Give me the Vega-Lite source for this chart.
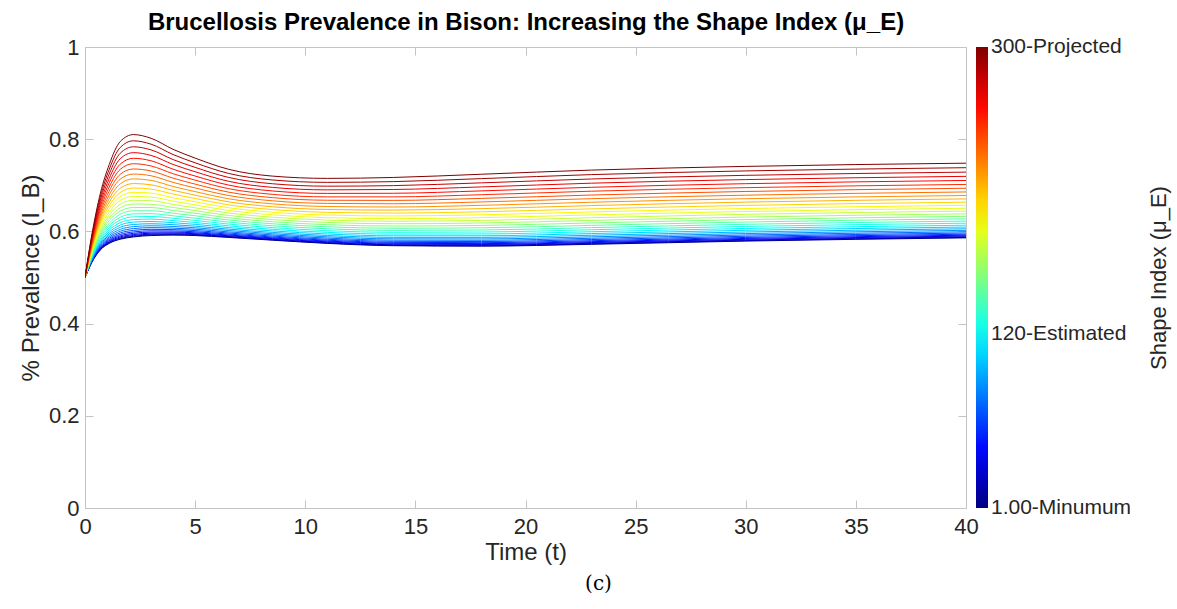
{
"$schema":"https://vega.github.io/schema/vega-lite/v6.json",
"width":881,"height":461,
"autosize":{"type":"none"},
"padding":{"left":85,"top":47,"right":211,"bottom":101},
"background":"white",
"config":{"font":"Liberation Sans","view":{"stroke":null}},
"title":{"text":"(c)","orient":"bottom","anchor":"middle","frame":"group","dx":73,"offset":10,"font":"DejaVu Serif","fontSize":20,"fontWeight":"normal","color":"#000000"},
"data":{"values":[
{"c":0,"t":0,"y":0.5},{"c":0,"t":0.3,"y":0.532},{"c":0,"t":0.7,"y":0.56},{"c":0,"t":1.1,"y":0.574},{"c":0,"t":1.6,"y":0.583},{"c":0,"t":2.2,"y":0.588},{"c":0,"t":3,"y":0.591},{"c":0,"t":4,"y":0.592},{"c":0,"t":5,"y":0.591},{"c":0,"t":6.5,"y":0.587},{"c":0,"t":8.5,"y":0.581},{"c":0,"t":11,"y":0.574},{"c":0,"t":14,"y":0.569},{"c":0,"t":18,"y":0.568},{"c":0,"t":23,"y":0.572},{"c":0,"t":30,"y":0.579},{"c":0,"t":40,"y":0.586},
{"c":1,"t":0,"y":0.5},{"c":1,"t":0.3,"y":0.5323},{"c":1,"t":0.7,"y":0.5607},{"c":1,"t":1.1,"y":0.575},{"c":1,"t":1.6,"y":0.5843},{"c":1,"t":2.2,"y":0.5893},{"c":1,"t":3,"y":0.5923},{"c":1,"t":4,"y":0.5931},{"c":1,"t":5,"y":0.592},{"c":1,"t":6.5,"y":0.5879},{"c":1,"t":8.5,"y":0.5818},{"c":1,"t":11,"y":0.5748},{"c":1,"t":14,"y":0.5699},{"c":1,"t":18,"y":0.5689},{"c":1,"t":23,"y":0.573},{"c":1,"t":30,"y":0.58},{"c":1,"t":40,"y":0.587},
{"c":2,"t":0,"y":0.5},{"c":2,"t":0.3,"y":0.5328},{"c":2,"t":0.7,"y":0.5617},{"c":2,"t":1.1,"y":0.5764},{"c":2,"t":1.6,"y":0.5859},{"c":2,"t":2.2,"y":0.5911},{"c":2,"t":3,"y":0.5939},{"c":2,"t":4,"y":0.5946},{"c":2,"t":5,"y":0.5933},{"c":2,"t":6.5,"y":0.589},{"c":2,"t":8.5,"y":0.5829},{"c":2,"t":11,"y":0.5759},{"c":2,"t":14,"y":0.571},{"c":2,"t":18,"y":0.5702},{"c":2,"t":23,"y":0.5742},{"c":2,"t":30,"y":0.5812},{"c":2,"t":40,"y":0.5882},
{"c":3,"t":0,"y":0.5},{"c":3,"t":0.3,"y":0.5334},{"c":3,"t":0.7,"y":0.5629},{"c":3,"t":1.1,"y":0.578},{"c":3,"t":1.6,"y":0.588},{"c":3,"t":2.2,"y":0.5932},{"c":3,"t":3,"y":0.596},{"c":3,"t":4,"y":0.5964},{"c":3,"t":5,"y":0.595},{"c":3,"t":6.5,"y":0.5905},{"c":3,"t":8.5,"y":0.5843},{"c":3,"t":11,"y":0.5773},{"c":3,"t":14,"y":0.5725},{"c":3,"t":18,"y":0.5717},{"c":3,"t":23,"y":0.5758},{"c":3,"t":30,"y":0.5828},{"c":3,"t":40,"y":0.5898},
{"c":4,"t":0,"y":0.5},{"c":4,"t":0.3,"y":0.534},{"c":4,"t":0.7,"y":0.5643},{"c":4,"t":1.1,"y":0.58},{"c":4,"t":1.6,"y":0.5904},{"c":4,"t":2.2,"y":0.5958},{"c":4,"t":3,"y":0.5984},{"c":4,"t":4,"y":0.5985},{"c":4,"t":5,"y":0.5969},{"c":4,"t":6.5,"y":0.5922},{"c":4,"t":8.5,"y":0.5859},{"c":4,"t":11,"y":0.579},{"c":4,"t":14,"y":0.5742},{"c":4,"t":18,"y":0.5735},{"c":4,"t":23,"y":0.5777},{"c":4,"t":30,"y":0.5847},{"c":4,"t":40,"y":0.5917},
{"c":5,"t":0,"y":0.5},{"c":5,"t":0.3,"y":0.5348},{"c":5,"t":0.7,"y":0.566},{"c":5,"t":1.1,"y":0.5823},{"c":5,"t":1.6,"y":0.5933},{"c":5,"t":2.2,"y":0.5988},{"c":5,"t":3,"y":0.6013},{"c":5,"t":4,"y":0.601},{"c":5,"t":5,"y":0.5992},{"c":5,"t":6.5,"y":0.5942},{"c":5,"t":8.5,"y":0.5878},{"c":5,"t":11,"y":0.5809},{"c":5,"t":14,"y":0.5762},{"c":5,"t":18,"y":0.5756},{"c":5,"t":23,"y":0.5798},{"c":5,"t":30,"y":0.5869},{"c":5,"t":40,"y":0.5939},
{"c":6,"t":0,"y":0.5},{"c":6,"t":0.3,"y":0.5357},{"c":6,"t":0.7,"y":0.5679},{"c":6,"t":1.1,"y":0.5849},{"c":6,"t":1.6,"y":0.5966},{"c":6,"t":2.2,"y":0.6022},{"c":6,"t":3,"y":0.6045},{"c":6,"t":4,"y":0.6039},{"c":6,"t":5,"y":0.6018},{"c":6,"t":6.5,"y":0.5965},{"c":6,"t":8.5,"y":0.5899},{"c":6,"t":11,"y":0.583},{"c":6,"t":14,"y":0.5785},{"c":6,"t":18,"y":0.578},{"c":6,"t":23,"y":0.5823},{"c":6,"t":30,"y":0.5894},{"c":6,"t":40,"y":0.5964},
{"c":7,"t":0,"y":0.5},{"c":7,"t":0.3,"y":0.5367},{"c":7,"t":0.7,"y":0.57},{"c":7,"t":1.1,"y":0.5879},{"c":7,"t":1.6,"y":0.6002},{"c":7,"t":2.2,"y":0.6061},{"c":7,"t":3,"y":0.6082},{"c":7,"t":4,"y":0.6071},{"c":7,"t":5,"y":0.6047},{"c":7,"t":6.5,"y":0.599},{"c":7,"t":8.5,"y":0.5923},{"c":7,"t":11,"y":0.5855},{"c":7,"t":14,"y":0.581},{"c":7,"t":18,"y":0.5807},{"c":7,"t":23,"y":0.5851},{"c":7,"t":30,"y":0.5922},{"c":7,"t":40,"y":0.5992},
{"c":8,"t":0,"y":0.5},{"c":8,"t":0.3,"y":0.5378},{"c":8,"t":0.7,"y":0.5724},{"c":8,"t":1.1,"y":0.5912},{"c":8,"t":1.6,"y":0.6043},{"c":8,"t":2.2,"y":0.6103},{"c":8,"t":3,"y":0.6122},{"c":8,"t":4,"y":0.6107},{"c":8,"t":5,"y":0.6079},{"c":8,"t":6.5,"y":0.6019},{"c":8,"t":8.5,"y":0.595},{"c":8,"t":11,"y":0.5882},{"c":8,"t":14,"y":0.5839},{"c":8,"t":18,"y":0.5837},{"c":8,"t":23,"y":0.5882},{"c":8,"t":30,"y":0.5953},{"c":8,"t":40,"y":0.6023},
{"c":9,"t":0,"y":0.5},{"c":9,"t":0.3,"y":0.5391},{"c":9,"t":0.7,"y":0.5749},{"c":9,"t":1.1,"y":0.5948},{"c":9,"t":1.6,"y":0.6088},{"c":9,"t":2.2,"y":0.615},{"c":9,"t":3,"y":0.6166},{"c":9,"t":4,"y":0.6146},{"c":9,"t":5,"y":0.6114},{"c":9,"t":6.5,"y":0.605},{"c":9,"t":8.5,"y":0.5979},{"c":9,"t":11,"y":0.5911},{"c":9,"t":14,"y":0.587},{"c":9,"t":18,"y":0.587},{"c":9,"t":23,"y":0.5916},{"c":9,"t":30,"y":0.5987},{"c":9,"t":40,"y":0.6057},
{"c":10,"t":0,"y":0.5},{"c":10,"t":0.3,"y":0.5404},{"c":10,"t":0.7,"y":0.5778},{"c":10,"t":1.1,"y":0.5987},{"c":10,"t":1.6,"y":0.6136},{"c":10,"t":2.2,"y":0.6201},{"c":10,"t":3,"y":0.6215},{"c":10,"t":4,"y":0.6189},{"c":10,"t":5,"y":0.6153},{"c":10,"t":6.5,"y":0.6084},{"c":10,"t":8.5,"y":0.6011},{"c":10,"t":11,"y":0.5944},{"c":10,"t":14,"y":0.5904},{"c":10,"t":18,"y":0.5905},{"c":10,"t":23,"y":0.5953},{"c":10,"t":30,"y":0.6024},{"c":10,"t":40,"y":0.6094},
{"c":11,"t":0,"y":0.5},{"c":11,"t":0.3,"y":0.5418},{"c":11,"t":0.7,"y":0.5808},{"c":11,"t":1.1,"y":0.603},{"c":11,"t":1.6,"y":0.6189},{"c":11,"t":2.2,"y":0.6256},{"c":11,"t":3,"y":0.6267},{"c":11,"t":4,"y":0.6235},{"c":11,"t":5,"y":0.6194},{"c":11,"t":6.5,"y":0.6121},{"c":11,"t":8.5,"y":0.6045},{"c":11,"t":11,"y":0.5979},{"c":11,"t":14,"y":0.5941},{"c":11,"t":18,"y":0.5944},{"c":11,"t":23,"y":0.5993},{"c":11,"t":30,"y":0.6064},{"c":11,"t":40,"y":0.6134},
{"c":12,"t":0,"y":0.5},{"c":12,"t":0.3,"y":0.5434},{"c":12,"t":0.7,"y":0.5841},{"c":12,"t":1.1,"y":0.6075},{"c":12,"t":1.6,"y":0.6246},{"c":12,"t":2.2,"y":0.6315},{"c":12,"t":3,"y":0.6324},{"c":12,"t":4,"y":0.6285},{"c":12,"t":5,"y":0.6239},{"c":12,"t":6.5,"y":0.616},{"c":12,"t":8.5,"y":0.6082},{"c":12,"t":11,"y":0.6016},{"c":12,"t":14,"y":0.598},{"c":12,"t":18,"y":0.5986},{"c":12,"t":23,"y":0.6036},{"c":12,"t":30,"y":0.6108},{"c":12,"t":40,"y":0.6178},
{"c":13,"t":0,"y":0.5},{"c":13,"t":0.3,"y":0.545},{"c":13,"t":0.7,"y":0.5876},{"c":13,"t":1.1,"y":0.6124},{"c":13,"t":1.6,"y":0.6306},{"c":13,"t":2.2,"y":0.6379},{"c":13,"t":3,"y":0.6384},{"c":13,"t":4,"y":0.6338},{"c":13,"t":5,"y":0.6287},{"c":13,"t":6.5,"y":0.6202},{"c":13,"t":8.5,"y":0.6122},{"c":13,"t":11,"y":0.6057},{"c":13,"t":14,"y":0.6022},{"c":13,"t":18,"y":0.603},{"c":13,"t":23,"y":0.6082},{"c":13,"t":30,"y":0.6154},{"c":13,"t":40,"y":0.6224},
{"c":14,"t":0,"y":0.5},{"c":14,"t":0.3,"y":0.5468},{"c":14,"t":0.7,"y":0.5914},{"c":14,"t":1.1,"y":0.6176},{"c":14,"t":1.6,"y":0.6371},{"c":14,"t":2.2,"y":0.6446},{"c":14,"t":3,"y":0.6448},{"c":14,"t":4,"y":0.6395},{"c":14,"t":5,"y":0.6339},{"c":14,"t":6.5,"y":0.6248},{"c":14,"t":8.5,"y":0.6165},{"c":14,"t":11,"y":0.61},{"c":14,"t":14,"y":0.6068},{"c":14,"t":18,"y":0.6078},{"c":14,"t":23,"y":0.6131},{"c":14,"t":30,"y":0.6203},{"c":14,"t":40,"y":0.6273},
{"c":15,"t":0,"y":0.5},{"c":15,"t":0.3,"y":0.5487},{"c":15,"t":0.7,"y":0.5954},{"c":15,"t":1.1,"y":0.6232},{"c":15,"t":1.6,"y":0.644},{"c":15,"t":2.2,"y":0.6518},{"c":15,"t":3,"y":0.6517},{"c":15,"t":4,"y":0.6455},{"c":15,"t":5,"y":0.6393},{"c":15,"t":6.5,"y":0.6296},{"c":15,"t":8.5,"y":0.621},{"c":15,"t":11,"y":0.6145},{"c":15,"t":14,"y":0.6116},{"c":15,"t":18,"y":0.6129},{"c":15,"t":23,"y":0.6183},{"c":15,"t":30,"y":0.6256},{"c":15,"t":40,"y":0.6326},
{"c":16,"t":0,"y":0.5},{"c":16,"t":0.3,"y":0.5507},{"c":16,"t":0.7,"y":0.5996},{"c":16,"t":1.1,"y":0.629},{"c":16,"t":1.6,"y":0.6512},{"c":16,"t":2.2,"y":0.6594},{"c":16,"t":3,"y":0.6589},{"c":16,"t":4,"y":0.6519},{"c":16,"t":5,"y":0.6451},{"c":16,"t":6.5,"y":0.6346},{"c":16,"t":8.5,"y":0.6257},{"c":16,"t":11,"y":0.6194},{"c":16,"t":14,"y":0.6166},{"c":16,"t":18,"y":0.6182},{"c":16,"t":23,"y":0.6238},{"c":16,"t":30,"y":0.6311},{"c":16,"t":40,"y":0.6381},
{"c":17,"t":0,"y":0.5},{"c":17,"t":0.3,"y":0.5528},{"c":17,"t":0.7,"y":0.604},{"c":17,"t":1.1,"y":0.6352},{"c":17,"t":1.6,"y":0.6589},{"c":17,"t":2.2,"y":0.6675},{"c":17,"t":3,"y":0.6665},{"c":17,"t":4,"y":0.6586},{"c":17,"t":5,"y":0.6511},{"c":17,"t":6.5,"y":0.64},{"c":17,"t":8.5,"y":0.6308},{"c":17,"t":11,"y":0.6245},{"c":17,"t":14,"y":0.622},{"c":17,"t":18,"y":0.6238},{"c":17,"t":23,"y":0.6296},{"c":17,"t":30,"y":0.637},{"c":17,"t":40,"y":0.644},
{"c":18,"t":0,"y":0.5},{"c":18,"t":0.3,"y":0.555},{"c":18,"t":0.7,"y":0.6087},{"c":18,"t":1.1,"y":0.6417},{"c":18,"t":1.6,"y":0.667},{"c":18,"t":2.2,"y":0.6759},{"c":18,"t":3,"y":0.6746},{"c":18,"t":4,"y":0.6657},{"c":18,"t":5,"y":0.6575},{"c":18,"t":6.5,"y":0.6456},{"c":18,"t":8.5,"y":0.636},{"c":18,"t":11,"y":0.6298},{"c":18,"t":14,"y":0.6276},{"c":18,"t":18,"y":0.6298},{"c":18,"t":23,"y":0.6358},{"c":18,"t":30,"y":0.6432},{"c":18,"t":40,"y":0.6502},
{"c":19,"t":0,"y":0.5},{"c":19,"t":0.3,"y":0.5573},{"c":19,"t":0.7,"y":0.6136},{"c":19,"t":1.1,"y":0.6485},{"c":19,"t":1.6,"y":0.6754},{"c":19,"t":2.2,"y":0.6848},{"c":19,"t":3,"y":0.683},{"c":19,"t":4,"y":0.6731},{"c":19,"t":5,"y":0.6642},{"c":19,"t":6.5,"y":0.6515},{"c":19,"t":8.5,"y":0.6416},{"c":19,"t":11,"y":0.6355},{"c":19,"t":14,"y":0.6335},{"c":19,"t":18,"y":0.636},{"c":19,"t":23,"y":0.6422},{"c":19,"t":30,"y":0.6496},{"c":19,"t":40,"y":0.6566},
{"c":20,"t":0,"y":0.5},{"c":20,"t":0.3,"y":0.5597},{"c":20,"t":0.7,"y":0.6188},{"c":20,"t":1.1,"y":0.6557},{"c":20,"t":1.6,"y":0.6843},{"c":20,"t":2.2,"y":0.6941},{"c":20,"t":3,"y":0.6918},{"c":20,"t":4,"y":0.6809},{"c":20,"t":5,"y":0.6713},{"c":20,"t":6.5,"y":0.6577},{"c":20,"t":8.5,"y":0.6474},{"c":20,"t":11,"y":0.6414},{"c":20,"t":14,"y":0.6397},{"c":20,"t":18,"y":0.6425},{"c":20,"t":23,"y":0.6489},{"c":20,"t":30,"y":0.6564},{"c":20,"t":40,"y":0.6634},
{"c":21,"t":0,"y":0.5},{"c":21,"t":0.3,"y":0.5623},{"c":21,"t":0.7,"y":0.6241},{"c":21,"t":1.1,"y":0.6632},{"c":21,"t":1.6,"y":0.6936},{"c":21,"t":2.2,"y":0.7038},{"c":21,"t":3,"y":0.701},{"c":21,"t":4,"y":0.689},{"c":21,"t":5,"y":0.6786},{"c":21,"t":6.5,"y":0.6642},{"c":21,"t":8.5,"y":0.6535},{"c":21,"t":11,"y":0.6475},{"c":21,"t":14,"y":0.6462},{"c":21,"t":18,"y":0.6494},{"c":21,"t":23,"y":0.656},{"c":21,"t":30,"y":0.6635},{"c":21,"t":40,"y":0.6705},
{"c":22,"t":0,"y":0.5},{"c":22,"t":0.3,"y":0.5649},{"c":22,"t":0.7,"y":0.6298},{"c":22,"t":1.1,"y":0.671},{"c":22,"t":1.6,"y":0.7032},{"c":22,"t":2.2,"y":0.7139},{"c":22,"t":3,"y":0.7107},{"c":22,"t":4,"y":0.6975},{"c":22,"t":5,"y":0.6863},{"c":22,"t":6.5,"y":0.6709},{"c":22,"t":8.5,"y":0.6598},{"c":22,"t":11,"y":0.654},{"c":22,"t":14,"y":0.6529},{"c":22,"t":18,"y":0.6565},{"c":22,"t":23,"y":0.6633},{"c":22,"t":30,"y":0.6709},{"c":22,"t":40,"y":0.6779},
{"c":23,"t":0,"y":0.5},{"c":23,"t":0.3,"y":0.5677},{"c":23,"t":0.7,"y":0.6356},{"c":23,"t":1.1,"y":0.6791},{"c":23,"t":1.6,"y":0.7133},{"c":23,"t":2.2,"y":0.7244},{"c":23,"t":3,"y":0.7207},{"c":23,"t":4,"y":0.7063},{"c":23,"t":5,"y":0.6943},{"c":23,"t":6.5,"y":0.678},{"c":23,"t":8.5,"y":0.6664},{"c":23,"t":11,"y":0.6607},{"c":23,"t":14,"y":0.66},{"c":23,"t":18,"y":0.6639},{"c":23,"t":23,"y":0.671},{"c":23,"t":30,"y":0.6786},{"c":23,"t":40,"y":0.6856},
{"c":24,"t":0,"y":0.5},{"c":24,"t":0.3,"y":0.5705},{"c":24,"t":0.7,"y":0.6417},{"c":24,"t":1.1,"y":0.6875},{"c":24,"t":1.6,"y":0.7238},{"c":24,"t":2.2,"y":0.7354},{"c":24,"t":3,"y":0.7311},{"c":24,"t":4,"y":0.7155},{"c":24,"t":5,"y":0.7026},{"c":24,"t":6.5,"y":0.6853},{"c":24,"t":8.5,"y":0.6733},{"c":24,"t":11,"y":0.6676},{"c":24,"t":14,"y":0.6673},{"c":24,"t":18,"y":0.6716},{"c":24,"t":23,"y":0.6789},{"c":24,"t":30,"y":0.6866},{"c":24,"t":40,"y":0.6936},
{"c":25,"t":0,"y":0.5},{"c":25,"t":0.3,"y":0.5735},{"c":25,"t":0.7,"y":0.648},{"c":25,"t":1.1,"y":0.6963},{"c":25,"t":1.6,"y":0.7346},{"c":25,"t":2.2,"y":0.7468},{"c":25,"t":3,"y":0.7419},{"c":25,"t":4,"y":0.7251},{"c":25,"t":5,"y":0.7112},{"c":25,"t":6.5,"y":0.6929},{"c":25,"t":8.5,"y":0.6804},{"c":25,"t":11,"y":0.6749},{"c":25,"t":14,"y":0.6749},{"c":25,"t":18,"y":0.6796},{"c":25,"t":23,"y":0.6872},{"c":25,"t":30,"y":0.6949},{"c":25,"t":40,"y":0.7019},
{"c":26,"t":0,"y":0.5},{"c":26,"t":0.3,"y":0.5766},{"c":26,"t":0.7,"y":0.6545},{"c":26,"t":1.1,"y":0.7054},{"c":26,"t":1.6,"y":0.7459},{"c":26,"t":2.2,"y":0.7586},{"c":26,"t":3,"y":0.7532},{"c":26,"t":4,"y":0.7349},{"c":26,"t":5,"y":0.7201},{"c":26,"t":6.5,"y":0.7007},{"c":26,"t":8.5,"y":0.6878},{"c":26,"t":11,"y":0.6824},{"c":26,"t":14,"y":0.6827},{"c":26,"t":18,"y":0.6879},{"c":26,"t":23,"y":0.6957},{"c":26,"t":30,"y":0.7035},{"c":26,"t":40,"y":0.7105},
{"c":27,"t":0,"y":0.5},{"c":27,"t":0.3,"y":0.5798},{"c":27,"t":0.7,"y":0.6613},{"c":27,"t":1.1,"y":0.7148},{"c":27,"t":1.6,"y":0.7576},{"c":27,"t":2.2,"y":0.7708},{"c":27,"t":3,"y":0.7648},{"c":27,"t":4,"y":0.7452},{"c":27,"t":5,"y":0.7294},{"c":27,"t":6.5,"y":0.7089},{"c":27,"t":8.5,"y":0.6955},{"c":27,"t":11,"y":0.6901},{"c":27,"t":14,"y":0.6909},{"c":27,"t":18,"y":0.6965},{"c":27,"t":23,"y":0.7046},{"c":27,"t":30,"y":0.7124},{"c":27,"t":40,"y":0.7194},
{"c":28,"t":0,"y":0.5},{"c":28,"t":0.3,"y":0.5831},{"c":28,"t":0.7,"y":0.6683},{"c":28,"t":1.1,"y":0.7246},{"c":28,"t":1.6,"y":0.7696},{"c":28,"t":2.2,"y":0.7835},{"c":28,"t":3,"y":0.7768},{"c":28,"t":4,"y":0.7558},{"c":28,"t":5,"y":0.7389},{"c":28,"t":6.5,"y":0.7173},{"c":28,"t":8.5,"y":0.7034},{"c":28,"t":11,"y":0.6981},{"c":28,"t":14,"y":0.6993},{"c":28,"t":18,"y":0.7053},{"c":28,"t":23,"y":0.7137},{"c":28,"t":30,"y":0.7216},{"c":28,"t":40,"y":0.7286},
{"c":29,"t":0,"y":0.5},{"c":29,"t":0.3,"y":0.5865},{"c":29,"t":0.7,"y":0.6755},{"c":29,"t":1.1,"y":0.7346},{"c":29,"t":1.6,"y":0.7821},{"c":29,"t":2.2,"y":0.7965},{"c":29,"t":3,"y":0.7892},{"c":29,"t":4,"y":0.7667},{"c":29,"t":5,"y":0.7488},{"c":29,"t":6.5,"y":0.726},{"c":29,"t":8.5,"y":0.7116},{"c":29,"t":11,"y":0.7064},{"c":29,"t":14,"y":0.708},{"c":29,"t":18,"y":0.7145},{"c":29,"t":23,"y":0.7232},{"c":29,"t":30,"y":0.7312},{"c":29,"t":40,"y":0.7382},
{"c":30,"t":0,"y":0.5},{"c":30,"t":0.3,"y":0.59},{"c":30,"t":0.7,"y":0.683},{"c":30,"t":1.1,"y":0.745},{"c":30,"t":1.6,"y":0.795},{"c":30,"t":2.2,"y":0.81},{"c":30,"t":3,"y":0.802},{"c":30,"t":4,"y":0.778},{"c":30,"t":5,"y":0.759},{"c":30,"t":6.5,"y":0.735},{"c":30,"t":8.5,"y":0.72},{"c":30,"t":11,"y":0.715},{"c":30,"t":14,"y":0.717},{"c":30,"t":18,"y":0.724},{"c":30,"t":23,"y":0.733},{"c":30,"t":30,"y":0.741},{"c":30,"t":40,"y":0.748}
]},
"layer":[
{"mark":{"type":"line","strokeWidth":1,"interpolate":"monotone","clip":true},
 "encoding":{
  "x":{"field":"t","type":"quantitative","scale":{"domain":[0,40],"nice":false},
   "axis":{"orient":"bottom","values":[0,5,10,15,20,25,30,35,40],"tickSize":-8,"labelPadding":16,"labelFontSize":22,"labelColor":"#262626","labelFlush":false,"labelAngle":0,"domainColor":"#c4c4c4","tickColor":"#c4c4c4","grid":false,"title":"Time (t)","titleFontSize":24,"titleFontWeight":"normal","titleColor":"#262626","titlePadding":3}},
  "y":{"field":"y","type":"quantitative","scale":{"domain":[0,1],"nice":false},
   "axis":{"orient":"left","values":[0,0.2,0.4,0.6,0.8,1],"format":"~g","tickSize":-8,"labelPadding":14,"labelFontSize":22,"labelColor":"#262626","labelFlush":false,"domainColor":"#c4c4c4","tickColor":"#c4c4c4","grid":false,"title":"% Prevalence (I_B)","titleFontSize":24,"titleFontWeight":"normal","titleColor":"#262626","titlePadding":5}},
  "color":{"field":"c","type":"quantitative",
   "scale":{"domain":[0,3.75,11.25,18.75,26.25,30],"range":["#000080","#0000ff","#00ffff","#ffff00","#ff0000","#800000"],"interpolate":"rgb"},
   "legend":{"title":"Shape Index (μ_E)","orient":"right","offset":9,"direction":"vertical","gradientLength":461,"gradientThickness":12,"gradientStrokeWidth":0,"values":[0,11.3,30],"labelExpr":"datum.value < 1 ? '1.00-Minumum' : datum.value > 29 ? '300-Projected' : '120-Estimated'","labelFontSize":21,"labelColor":"#262626","labelOffset":3,"labelOverlap":false,"labelBaseline":"middle","titleOrient":"right","titleAnchor":"middle","titleLimit":400,"titleFontSize":22,"titleFontWeight":"normal","titleColor":"#262626","titlePadding":40,
    "encode":{"labels":{"update":{"baseline":{"value":"middle"}}},"title":{"update":{"angle":{"value":270}}}}}},
  "detail":{"field":"c"}
 }},
{"mark":{"type":"line","opacity":0},
 "encoding":{
  "x":{"field":"t","type":"quantitative","scale":{"domain":[0,40],"nice":false},
   "axis":{"orient":"top","values":[0,5,10,15,20,25,30,35,40],"tickSize":-8,"labels":false,"domainColor":"#c4c4c4","tickColor":"#c4c4c4","grid":false,"title":"Brucellosis Prevalence in Bison: Increasing the Shape Index (μ_E)","titleFontSize":24,"titleFontWeight":"bold","titleColor":"#000000","titlePadding":12}},
  "y":{"field":"y","type":"quantitative","scale":{"domain":[0,1],"nice":false},
   "axis":{"orient":"right","values":[0,0.2,0.4,0.6,0.8,1],"tickSize":-8,"labels":false,"domainColor":"#c4c4c4","tickColor":"#c4c4c4","grid":false,"title":null}},
  "detail":{"field":"c"}
 }}
],
"resolve":{"axis":{"x":"independent","y":"independent"}}
}
